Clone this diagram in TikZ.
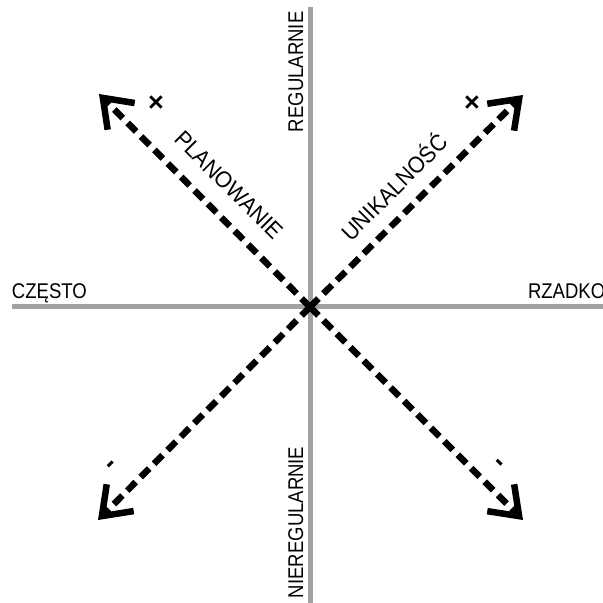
\documentclass[tikz,border=0pt]{standalone}
\usepackage{fontspec}
\setmainfont{Liberation Sans}
\usetikzlibrary{arrows.meta}
\newcommand{\lbl}[1]{\scalebox{0.87}[1]{\fontsize{21.3}{21.3}\selectfont #1}}
\newcommand{\dlbl}[1]{\scalebox{0.93}[1]{\fontsize{23}{23}\selectfont #1}}
\newcommand{\mk}[1]{{\fontsize{27}{27}\selectfont\bfseries #1}}
\tikzset{
  axis/.style={line width=5pt, color=axisgray},
  darrow/.style={line width=6.5pt, dash pattern=on 12pt off 7pt, -{Straight Barb[length=26pt,width=38pt]}},
  lab/.style={inner sep=0pt, outer sep=0pt, text=black},
}
\definecolor{axisgray}{HTML}{A2A2A2}
\begin{document}
\begin{tikzpicture}[x=1pt,y=-1pt]
\useasboundingbox (0,0) rectangle (603,603);
\coordinate (L) at (12,306);
\coordinate (R) at (603,306);
\coordinate (T) at (310.5,7);
\coordinate (B) at (310.5,603);
\coordinate (C) at (310,307);
\coordinate (UL) at (99,94);
\coordinate (UR) at (523,95);
\coordinate (LL) at (98,520);
\coordinate (LR) at (523,520);
\draw[axis] (L) -- (R);
\draw[axis] (T) -- (B);
\draw[darrow] (C) -- (UL);
\draw[darrow] (C) -- (UR);
\draw[darrow] (C) -- (LL);
\draw[darrow] (C) -- (LR);
\node[lab, anchor=base west] (czesto) at (12,298) {\lbl{CZĘSTO}};
\node[lab, anchor=base west] (rzadko) at (528,298) {\lbl{RZADKO}};
\node[lab, anchor=base west, rotate=90] (reg) at (303,132) {\lbl{REGULARNIE}};
\node[lab, anchor=base west, rotate=90] (nreg) at (303,598) {\lbl{NIEREGULARNIE}};
\node[lab, rotate=-45] (plan) at (229,185) {\dlbl{PLANOWANIE}};
\node[lab, rotate=45] (unik) at (393,186) {\dlbl{UNIKALNOŚĆ}};
\node[lab] (x1) at (156,104) {\mk{×}};
\node[lab] (x2) at (472,104) {\mk{×}};
\node[lab, rotate=45] (m1) at (113,466) {\mk{-}};
\node[lab, rotate=-45] (m2) at (498,465) {\mk{-}};
\end{tikzpicture}
\end{document}
